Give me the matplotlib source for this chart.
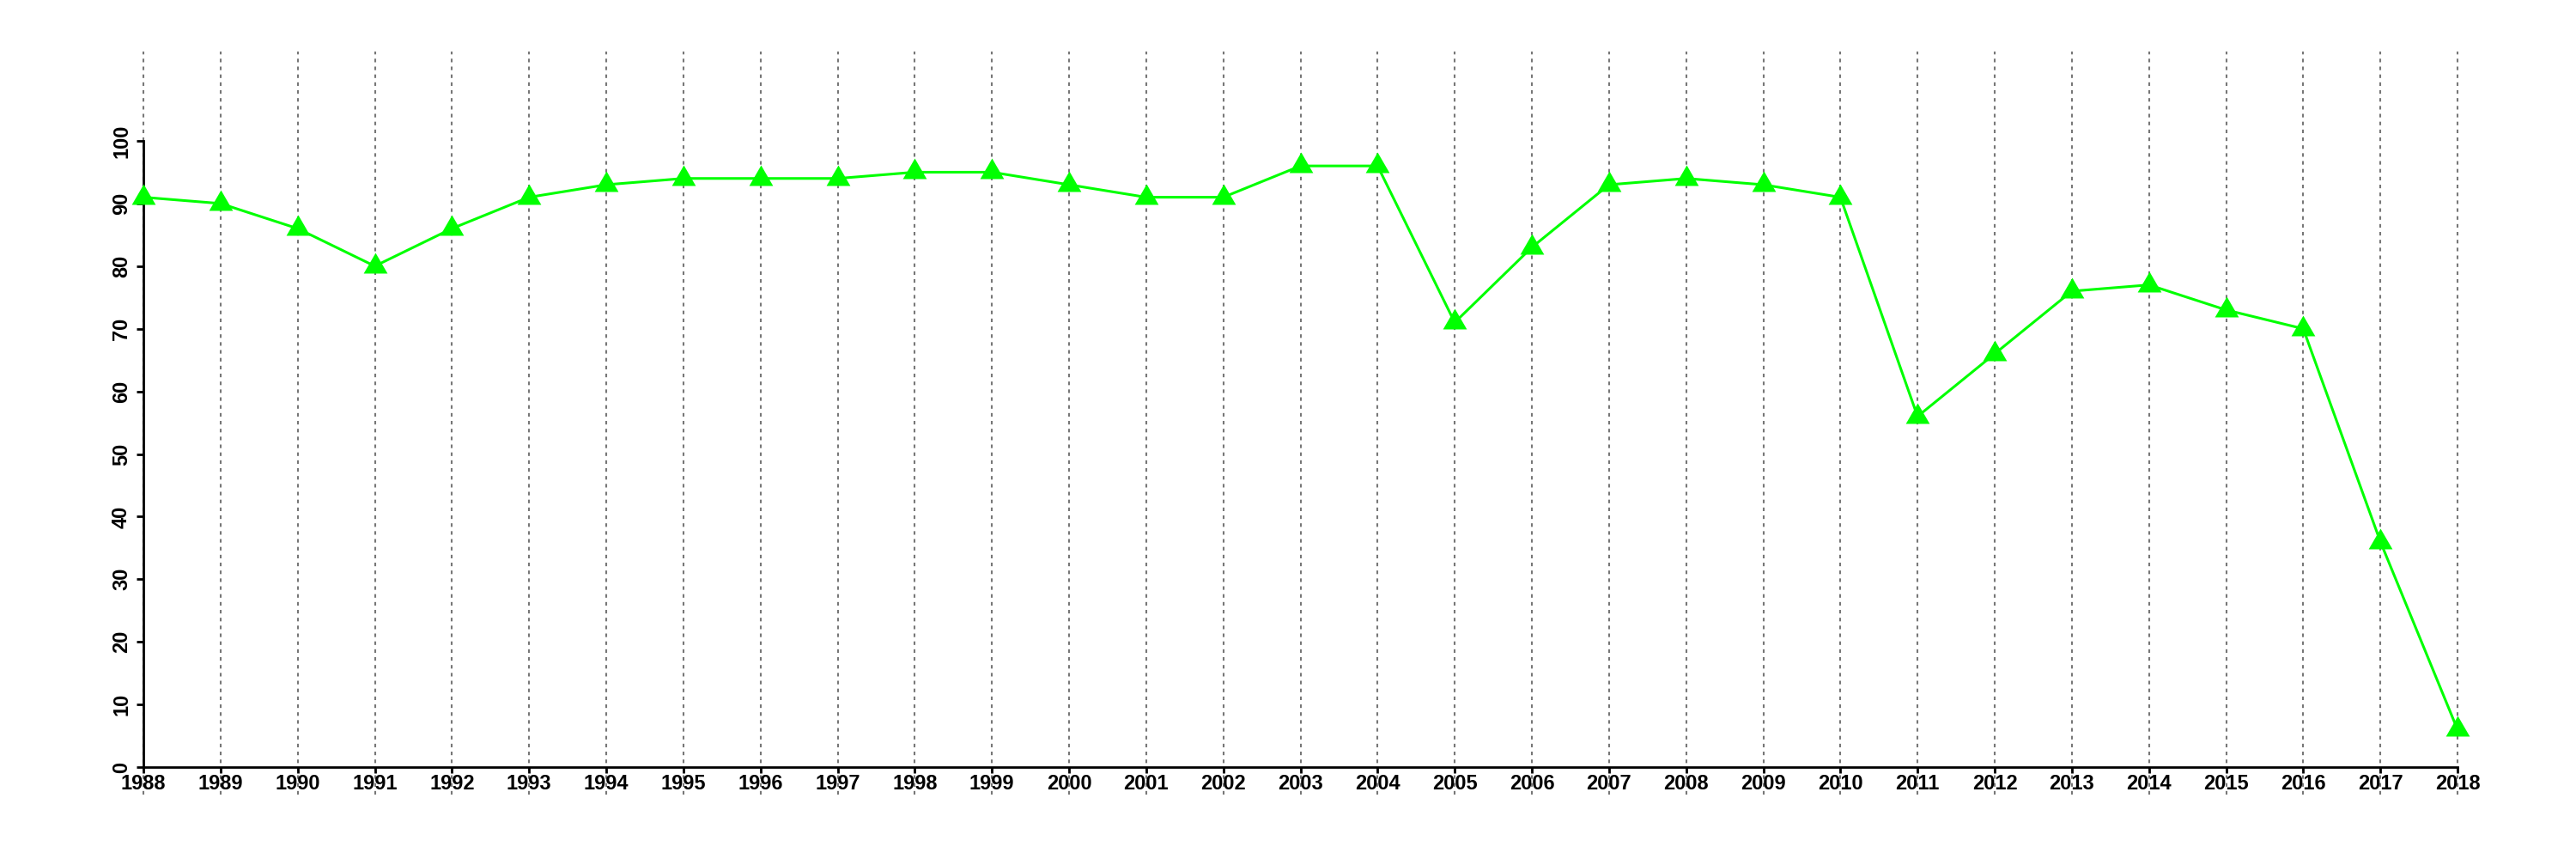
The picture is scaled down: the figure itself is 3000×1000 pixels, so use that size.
import matplotlib
matplotlib.use("Agg")
import matplotlib.pyplot as plt

# yearly values
years = list(range(1988, 2019))
values = [91, 90, 86, 80, 86, 91, 93, 94, 94, 94, 95, 95, 93, 91, 91,
          96, 96, 71, 83, 93, 94, 93, 91, 56, 66, 76, 77, 73, 70, 36, 6]
y_ticks = [0, 10, 20, 30, 40, 50, 60, 70, 80, 90, 100]

plt.rcParams['font.family'] = ['Liberation Sans', 'DejaVu Sans']

fig = plt.figure(figsize=(30, 10), dpi=100)
ax = fig.add_axes([167 / 3000, 0.107, (2862 - 167) / 3000, 0.836 - 0.107])
ax.set_xlim(years[0], years[-1])
ax.set_ylim(0, 100)

# vertical dotted guides, running past the plot box like the original
for yr in years:
    ax.axvline(yr, ymin=-0.044, ymax=1.143, color='#777777', lw=1.5,
               linestyle=(0, (2, 2.4)), clip_on=False, zorder=1)

tri = [(0, 1), (-0.87, -0.5), (0.87, -0.5)]
ax.plot(years, values, color='#00ff00', lw=2.2, marker=tri, markersize=23,
        markeredgewidth=0, clip_on=False, zorder=3)

for side in ['top', 'right']:
    ax.spines[side].set_visible(False)
for side in ['left', 'bottom']:
    ax.spines[side].set_linewidth(2)

ax.set_xticks(years)
ax.set_xticklabels([str(y) for y in years], fontsize=17, fontweight='bold')
ax.set_yticks(y_ticks)
ax.set_yticklabels([str(v) for v in y_ticks], fontsize=17, fontweight='bold',
                   rotation=90, va='center')
ax.tick_params(axis='x', length=5, width=2, pad=1)
ax.tick_params(axis='y', length=6, width=2, pad=4)

fig.savefig('out.png', dpi=100)
